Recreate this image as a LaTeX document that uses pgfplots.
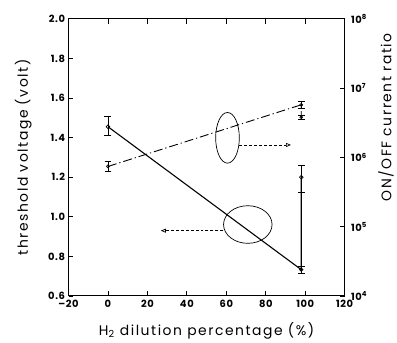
\documentclass[border=0pt]{standalone}
\usepackage{pgfplots}
\pgfplotsset{compat=1.18}
\usepackage{fontspec}
\setmainfont{Poppins}
\usetikzlibrary{arrows.meta}
\newcommand\lblfont{\fontsize{14}{16}\selectfont\addfontfeature{LetterSpace=11}}
\newcommand\tckfont{\fontsize{10}{11}\selectfont\bfseries\addfontfeature{LetterSpace=6}}
\begin{document}
\begin{tikzpicture}
\begin{axis}[
  scale only axis, width=278pt, height=279pt,
  xmin=-20, xmax=120, ymin=0.6, ymax=2.0,
  xtick={-20,0,20,40,60,80,100,120},
  xticklabels={\textendash20,0,20,40,60,80,100,120},
  ytick={0.6,0.8,1.0,1.2,1.4,1.6,1.8,2.0},
  yticklabels={0.6,0.8,1.0,1.2,1.4,1.6,1.8,2.0},
  ytick pos=left, xtick pos=both,
  tick align=inside, major tick length=5pt,
  tick label style={font=\tckfont},
  xticklabel style={yshift=-1pt},
  label style={font=\lblfont},
  xlabel={H\textsubscript{2} dilution percentage (\%)},
  xlabel style={at={(rel axis cs:0.5,0)}, anchor=base, yshift=-40pt},
  ylabel={threshold voltage (volt)},
  ylabel style={at={(rel axis cs:0,0.5)}, anchor=base, yshift=41pt},
  axis line style={line width=1pt},
  every tick/.style={line width=0.8pt,black},
]
\addplot[black, line width=1.1pt, mark=o, mark size=1.8pt,
  mark options={solid, line width=0.7pt},
  error bars/.cd, y dir=both, y explicit,
  error mark options={rotate=90, mark size=3.5pt, line width=0.8pt},
  error bar style={line width=0.8pt}]
coordinates {
  (0,1.455) += (0,0.05) -= (0,0.045)
  (98,0.733) += (0,0.018) -= (0,0.018)
  (98,1.2) += (0,0.062) -= (0,0.075)
};
\draw[line width=0.7pt] (axis cs:60.6,1.399) ellipse [x radius=6.0, y radius=0.128];
\draw[line width=0.7pt] (axis cs:70.9,0.961) ellipse [x radius=12.3, y radius=0.095];
\draw[densely dashed, line width=0.7pt, -{Triangle[open,length=5pt,width=4pt]}] (axis cs:66.6,1.363) -- (axis cs:92.8,1.363);
\draw[densely dashed, line width=0.7pt, -{Triangle[open,length=5pt,width=4pt]}] (axis cs:58.5,0.930) -- (axis cs:26.8,0.930);
\end{axis}
\begin{axis}[
  scale only axis, width=278pt, height=279pt,
  xmin=-20, xmax=120, ymode=log, ymin=1e4, ymax=1e8,
  axis x line=none, axis y line*=right,
  ytick={1e4,1e5,1e6,1e7,1e8},
  yticklabels={10\textsuperscript{4},10\textsuperscript{5},10\textsuperscript{6},10\textsuperscript{7},10\textsuperscript{8}},
  yminorticks=false,
  tick align=inside, major tick length=5pt,
  tick label style={font=\tckfont},
  yticklabel style={xshift=3pt},
  label style={font=\lblfont},
  ylabel={ON/OFF current ratio},
  ylabel style={at={(rel axis cs:1,0.645)}, anchor=base, yshift=-47pt},
  axis line style={line width=1pt},
  every tick/.style={line width=0.8pt,black},
]
\addplot[black, line width=0.9pt, dash pattern=on 9pt off 3pt on 1.2pt off 3pt,
  mark=o, mark size=1.5pt, mark options={solid, line width=0.7pt},
  error bars/.cd, y dir=both, y explicit,
  error mark options={rotate=90, mark size=3.5pt, line width=0.8pt},
  error bar style={solid, line width=0.8pt}]
coordinates {
  (0,7.4e5) += (0,1.4e5) -= (0,1.1e5)
  (98,5.75e6) += (0,0.7e6) -= (0,0.6e6)
  (98,3.8e6) += (0,0.3e6) -= (0,0.3e6)
};
\end{axis}
\path (-69pt,-47pt) rectangle (328pt,298pt);
\end{tikzpicture}
\end{document}
